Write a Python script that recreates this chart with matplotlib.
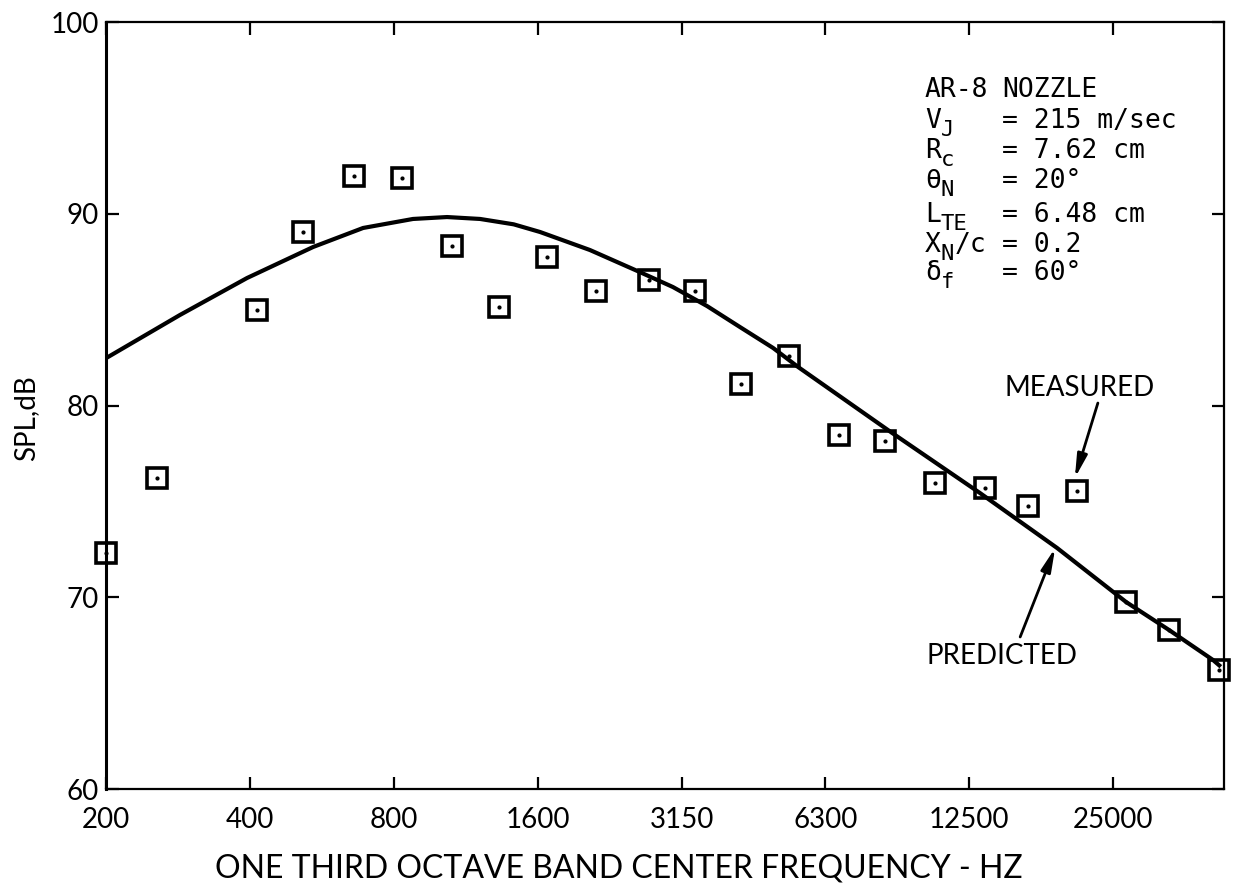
import matplotlib
matplotlib.use("Agg")
import matplotlib.pyplot as plt

plt.rcParams['font.family'] = ['Lato', 'DejaVu Sans']

# one-third octave bands, x axis is the band number counted from 200 Hz
tick_pos = [0, 3, 6, 9, 12, 15, 18, 21]
tick_labels = ['200', '400', '800', '1600', '3150', '6300', '12500', '25000']

# measured SPL (band position, dB)
meas_x = [0.0, 1.06, 3.15, 4.11, 5.17, 6.17, 7.21, 8.19, 9.2, 10.22, 11.32, 12.28,
          13.24, 14.24, 15.28, 16.25, 17.28, 18.33, 19.22, 20.25, 21.27, 22.16, 23.21]
meas_spl = [72.3, 76.2, 85.0, 89.05, 91.97, 91.86, 88.34, 85.14, 87.74, 85.97, 86.55, 85.97,
            81.12, 82.58, 78.46, 78.15, 75.96, 75.7, 74.76, 75.54, 69.75, 68.3, 66.2]

# predicted curve
pred_x = [0.0, 1.54, 2.94, 4.32, 5.36, 6.40, 7.11, 7.80, 8.5, 9.05, 10.09, 11.13, 11.82,
          12.53, 13.22, 13.91, 14.43, 16.39, 18.22, 19.83, 21.27, 22.16, 23.08, 23.21]
pred_spl = [82.47, 84.72, 86.65, 88.27, 89.26, 89.73, 89.83, 89.73, 89.45, 89.05, 88.11,
            86.96, 86.18, 85.19, 84.09, 83.0, 82.01, 78.57, 75.44, 72.57, 69.75, 68.3,
            66.73, 66.45]

# test conditions: (symbol, subscript, rest, value)
params = [('AR-8', '', '', 'NOZZLE'),
          ('V', 'J', '', '= 215 m/sec'),
          ('R', 'c', '', '= 7.62 cm'),
          ('θ', 'N', '', '= 20°'),
          ('L', 'TE', '', '= 6.48 cm'),
          ('X', 'N', '/c', '= 0.2'),
          ('δ', 'f', '', '= 60°')]

fig = plt.figure(figsize=(12.37, 8.96), dpi=100)
ax = fig.add_axes([0.0857, 0.1194, 0.9038, 0.856])

ax.plot(pred_x, pred_spl, color='black', lw=3.0, solid_joinstyle='round', zorder=2)
ax.plot(meas_x, meas_spl, ls='none', marker='s', ms=15, mfc='none', mec='black',
        mew=2.6, zorder=3, clip_on=False)
ax.plot(meas_x, meas_spl, ls='none', marker='o', ms=2, color='black', zorder=4,
        clip_on=False)

ax.set_xlim(0, 23.31)
ax.set_ylim(60, 100)
ax.set_xticks(tick_pos)
ax.set_xticklabels(tick_labels)
ax.set_yticks([60, 70, 80, 90, 100])
ax.tick_params(direction='in', length=9, width=1.6, top=True, right=True, labelsize=20)
ax.tick_params(axis='x', pad=13)
ax.tick_params(axis='y', pad=5)
for side, s in ax.spines.items():
    s.set_linewidth(2.2 if side == 'left' else 1.6)

fig.text(619 / 1237, 1 - 868 / 896, 'ONE THIRD OCTAVE BAND CENTER FREQUENCY - HZ',
         ha='center', va='center', fontsize=23)
fig.text(26 / 1237, 1 - 418 / 896, 'SPL,dB', rotation=90, ha='center', va='center',
         fontsize=20)

# parameter block, monospaced with dropped subscripts
base_y = [97, 128, 158, 188, 222, 252, 280]
cw = 15.9  # char width in px
x0 = 925
mono = 'DejaVu Sans Mono'
for (sym, sub, rest, val), yb in zip(params, base_y):
    fig.text(x0 / 1237, 1 - yb / 896, sym, family=mono, fontsize=19, va='baseline')
    if sub:
        xs = x0 + cw * len(sym)
        fig.text(xs / 1237, 1 - (yb + 8) / 896, sub, family=mono, fontsize=16,
                 va='baseline')
        if rest:
            xr = xs + 14 * len(sub) / 1.0
            fig.text(xr / 1237, 1 - yb / 896, rest, family=mono, fontsize=19,
                     va='baseline')
    fig.text(1002 / 1237, 1 - yb / 896, val, family=mono, fontsize=19, va='baseline')

arrow = dict(arrowstyle='-|>,head_length=1.4,head_width=0.3', color='black', lw=2,
             shrinkA=0, shrinkB=0)
ax.text(20.31, 80.91, 'MEASURED', ha='center', va='center', fontsize=20)
ax.annotate('', xy=(20.2, 76.22), xytext=(20.68, 80.13), arrowprops=arrow)
ax.text(18.68, 66.94, 'PREDICTED', ha='center', va='center', fontsize=20)
ax.annotate('', xy=(19.79, 72.57), xytext=(19.06, 67.93), arrowprops=arrow)

fig.savefig('out.png', dpi=100)
